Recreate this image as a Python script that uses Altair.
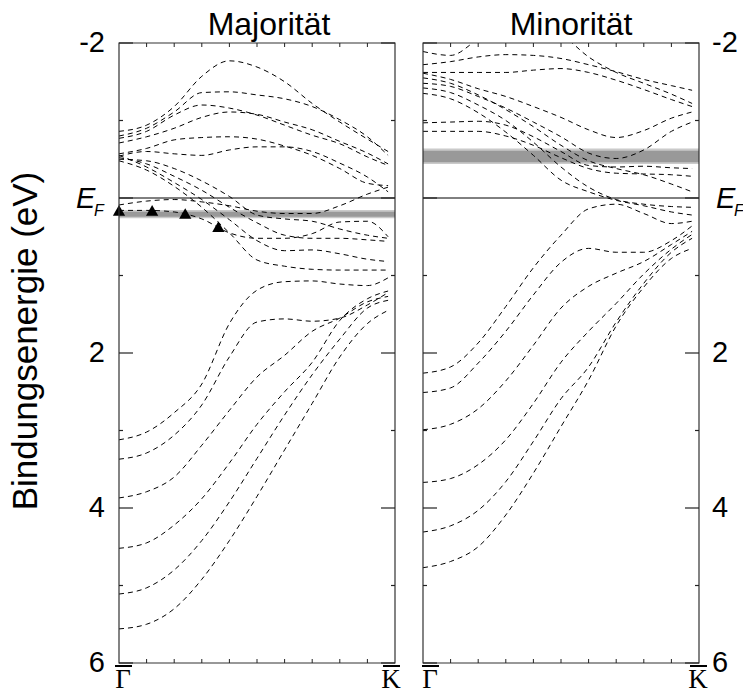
import altair as alt
import pandas as pd

# Sampling points along the Γ-K path (0 = Γ, 1 = K)
K_POINTS = [0.0, 0.1, 0.2, 0.3, 0.4, 0.5, 0.6, 0.7, 0.8, 0.9, 0.975]

# Majority-spin bands: binding energy (eV) at each K_POINTS entry
MAJ_U1 = [-0.86, -0.94, -1.18, -1.57, -1.77, -1.69, -1.50, -1.22, -0.98, -0.76, -0.60]
MAJ_U2 = [-0.80, -0.90, -1.11, -1.36, -1.37, -1.33, -1.28, -1.18, -1.01, -0.79, -0.55]
MAJ_U3 = [-0.77, -0.86, -1.07, -1.20, -1.16, -1.07, -0.94, -0.81, -0.70, -0.53, -0.42]
MAJ_U4 = [-0.71, -0.79, -0.90, -1.04, -1.11, -1.08, -0.98, -0.88, -0.73, -0.58, -0.44]
MAJ_U5 = [-0.57, -0.64, -0.75, -0.78, -0.79, -0.76, -0.67, -0.55, -0.38, -0.19, -0.16]
MAJ_U6 = [-0.54, -0.60, -0.57, -0.55, -0.62, -0.66, -0.66, -0.60, -0.45, -0.27, -0.08]
MAJ_C1 = [0.09, 0.04, 0.02, 0.05, 0.10, 0.17, 0.20, 0.20, 0.10, -0.05, -0.14]
MAJ_C2 = [0.16, 0.16, 0.18, 0.27, 0.45, 0.52, 0.52, 0.46, 0.31, 0.30, 0.50]
MAJ_V1 = [-0.50, -0.48, -0.38, -0.22, -0.02, 0.22, 0.27, 0.30, 0.40, 0.48, 0.52]
MAJ_V2 = [-0.52, -0.44, -0.28, -0.10, 0.12, 0.32, 0.48, 0.52, 0.52, 0.54, 0.56]
MAJ_V3 = [-0.55, -0.40, -0.20, 0.02, 0.28, 0.55, 0.68, 0.67, 0.72, 0.79, 0.82]
MAJ_V4 = [-0.48, -0.36, -0.15, 0.12, 0.45, 0.80, 0.88, 0.92, 0.93, 0.93, 0.93]
MAJ_D1 = [3.12, 3.02, 2.77, 2.40, 1.62, 1.19, 1.08, 1.07, 1.11, 1.13, 1.03]
MAJ_D2 = [3.37, 3.29, 3.06, 2.67, 2.05, 1.60, 1.56, 1.59, 1.55, 1.38, 1.22]
MAJ_D3 = [3.87, 3.79, 3.60, 3.19, 2.74, 2.31, 2.03, 1.72, 1.55, 1.34, 1.27]
MAJ_D4 = [4.52, 4.45, 4.22, 3.88, 3.42, 2.92, 2.50, 2.12, 1.58, 1.30, 1.20]
MAJ_D5 = [5.11, 5.03, 4.80, 4.42, 3.92, 3.36, 2.80, 2.28, 1.82, 1.42, 1.32]
MAJ_D6 = [5.56, 5.50, 5.30, 4.92, 4.42, 3.85, 3.25, 2.65, 2.05, 1.62, 1.45]

# Minority-spin bands
MIN_R1 = [-1.89, -1.84, -2.05, -2.25, -2.30, -2.12, -1.82, -1.62, -1.48, -1.34, -1.22]
MIN_R2 = [-1.72, -1.76, -1.82, -1.85, -1.84, -1.80, -1.72, -1.63, -1.53, -1.45, -1.39]
MIN_R3 = [-1.62, -1.62, -1.62, -1.62, -1.65, -1.67, -1.62, -1.52, -1.40, -1.27, -1.18]
MIN_R4 = [-1.61, -1.53, -1.41, -1.31, -1.18, -1.04, -0.88, -0.78, -0.87, -1.03, -1.11]
MIN_R5 = [-1.48, -1.44, -1.31, -1.16, -0.98, -0.79, -0.58, -0.51, -0.62, -0.86, -0.98]
MIN_R6 = [-0.97, -0.98, -0.99, -0.94, -0.79, -0.60, -0.42, -0.40, -0.41, -0.39, -0.38]
MIN_R7 = [-0.86, -0.86, -0.86, -0.80, -0.68, -0.52, -0.38, -0.32, -0.31, -0.30, -0.28]
MIN_R8 = [-1.55, -1.48, -1.33, -1.14, -0.92, -0.68, -0.48, -0.38, -0.30, -0.18, -0.08]
MIN_R9 = [-1.42, -1.36, -1.20, -1.00, -0.72, -0.40, -0.14, 0.02, 0.08, 0.11, 0.12]
MIN_R10 = [-1.35, -1.28, -1.10, -0.85, -0.55, -0.23, -0.08, 0.03, 0.10, 0.18, 0.22]
MIN_D1 = [2.26, 2.18, 1.87, 1.40, 0.90, 0.48, 0.14, 0.08, 0.20, 0.33, 0.30]
MIN_D2 = [2.51, 2.45, 2.13, 1.72, 1.25, 0.83, 0.65, 0.70, 0.70, 0.55, 0.36]
MIN_D3 = [2.99, 2.92, 2.72, 2.36, 1.90, 1.42, 1.14, 0.97, 0.82, 0.60, 0.43]
MIN_D4 = [3.67, 3.62, 3.44, 3.12, 2.65, 2.12, 1.72, 1.36, 0.98, 0.66, 0.47]
MIN_D5 = [4.31, 4.23, 4.03, 3.66, 3.14, 2.59, 2.18, 1.60, 1.10, 0.70, 0.52]
MIN_D6 = [4.77, 4.69, 4.50, 4.09, 3.55, 2.95, 2.35, 1.65, 1.15, 0.78, 0.65]

MAJ_BANDS = [MAJ_U1, MAJ_U2, MAJ_U3, MAJ_U4, MAJ_U5, MAJ_U6, MAJ_C1, MAJ_C2,
             MAJ_V1, MAJ_V2, MAJ_V3, MAJ_V4, MAJ_D1, MAJ_D2, MAJ_D3, MAJ_D4,
             MAJ_D5, MAJ_D6]
MIN_BANDS = [MIN_R1, MIN_R2, MIN_R3, MIN_R4, MIN_R5, MIN_R6, MIN_R7, MIN_R8,
             MIN_R9, MIN_R10, MIN_D1, MIN_D2, MIN_D3, MIN_D4, MIN_D5, MIN_D6]

# Measured states (photoemission peaks) in the majority panel
PEAK_K = [0.0, 0.12, 0.24, 0.36]
PEAK_E = [0.16, 0.16, 0.20, 0.37]

# Grey stripes: experimental surface-state energies (outer and core extent, eV)
MAJ_STRIPE_OUTER = [0.155, 0.26]
MAJ_STRIPE_CORE = [0.177, 0.241]
MIN_STRIPE_OUTER = [-0.64, -0.44]
MIN_STRIPE_CORE = [-0.61, -0.46]

PANEL_TITLES = ["Majorität", "Minorität"]
Y_TITLE = "Bindungsenergie (eV)"
TICK_VALUES = [-2, 2, 4, 6]
MAJOR_TICKS = [-2, 0, 2, 4, 6]
MINOR_TICKS = [-1, 1, 3, 5]
K_TICKS = [0.1, 0.2, 0.3, 0.4, 0.5, 0.6, 0.7, 0.8, 0.9]

# Both panels share one horizontal scale; the second panel is shifted by 1 + gap
GAP = 28 / 276
OFFSETS = [0.0, 1.0 + GAP]
W, H = 580, 620

rows = []
for p, bands in enumerate([MAJ_BANDS, MIN_BANDS]):
    for b, energies in enumerate(bands):
        for k, e in zip(K_POINTS, energies):
            rows.append({"band": f"{p}-{b}", "x": k + OFFSETS[p], "E": e})
band_df = pd.DataFrame(rows)

x_scale = alt.Scale(domain=[0, 2 + GAP], nice=False, zero=False)
y_scale = alt.Scale(domain=[-2, 6], reverse=True, nice=False, zero=False)


def X(f):
    return alt.X(f, type="quantitative", scale=x_scale, axis=None)


def Y(f):
    return alt.Y(f, type="quantitative", scale=y_scale, axis=None)


panels = pd.DataFrame({"x0": OFFSETS, "x1": [o + 1 for o in OFFSETS], "ef": [0, 0]})

stripes = pd.DataFrame({
    "x0": [OFFSETS[0], OFFSETS[0], OFFSETS[1], OFFSETS[1]],
    "x1": [OFFSETS[0] + 1, OFFSETS[0] + 1, OFFSETS[1] + 1, OFFSETS[1] + 1],
    "e0": [MAJ_STRIPE_OUTER[0], MAJ_STRIPE_CORE[0], MIN_STRIPE_OUTER[0], MIN_STRIPE_CORE[0]],
    "e1": [MAJ_STRIPE_OUTER[1], MAJ_STRIPE_CORE[1], MIN_STRIPE_OUTER[1], MIN_STRIPE_CORE[1]],
    "part": ["outer", "core", "outer", "core"],
})

stripe_layer = alt.Chart(stripes).mark_rect().encode(
    x=X("x0"), x2="x1", y=Y("e0"), y2="e1",
    color=alt.Color("part:N", scale=alt.Scale(domain=["outer", "core"],
                                              range=["#cacaca", "#999999"]),
                    legend=None),
)

band_layer = alt.Chart(band_df).mark_line(
    color="black", strokeWidth=1, strokeDash=[5, 4], interpolate="monotone", clip=True
).encode(x=X("x"), y=Y("E"), detail="band:N")

ef_layer = alt.Chart(panels).mark_rule(color="black", strokeWidth=1).encode(
    x=X("x0"), x2="x1", y=Y("ef")
)

peaks = pd.DataFrame({"x": PEAK_K, "E": PEAK_E})
peak_layer = alt.Chart(peaks).mark_point(
    shape="triangle-up", filled=True, color="black", size=150, opacity=1
).encode(x=X("x"), y=Y("E"))

frame_layer = alt.Chart(panels.assign(top=-2, bottom=6)).mark_rect(
    fillOpacity=0, stroke="#333333", strokeWidth=1.2
).encode(x=X("x0"), x2="x1", y=Y("top"), y2="bottom")


# inward ticks on the energy axes
def edge_ticks(edges, values, length):
    df = pd.DataFrame([{"x": e, "E": v} for e in edges for v in values])
    return alt.Chart(df).mark_rule(color="#222222", strokeWidth=1.2, x2Offset=length).encode(
        x=X("x"), x2="x", y=Y("E")
    )


left_edges = list(OFFSETS)
right_edges = [o + 1 for o in OFFSETS]
tick_layers = [
    edge_ticks(left_edges, MAJOR_TICKS, 14),
    edge_ticks(right_edges, MAJOR_TICKS, -14),
    edge_ticks(left_edges, MINOR_TICKS, 4),
    edge_ticks(right_edges, MINOR_TICKS, -4),
]

kt = pd.DataFrame([{"x": o + k} for o in OFFSETS for k in K_TICKS])
tick_layers.append(alt.Chart(kt.assign(E=-2)).mark_rule(
    color="#222222", strokeWidth=1, y2Offset=4).encode(x=X("x"), y=Y("E"), y2="E"))
tick_layers.append(alt.Chart(kt.assign(E=6)).mark_rule(
    color="#222222", strokeWidth=1, y2Offset=-4).encode(x=X("x"), y=Y("E"), y2="E"))

FONT = "Liberation Sans"
labels = pd.DataFrame({"E": TICK_VALUES, "t": [str(v) for v in TICK_VALUES]})
left_labels = alt.Chart(labels).mark_text(
    font=FONT, fontSize=29, align="right", baseline="middle", color="black"
).encode(x=alt.value(-14), y=Y("E"), text="t:N")
right_labels = alt.Chart(labels).mark_text(
    font=FONT, fontSize=29, align="left", baseline="middle", color="black"
).encode(x=alt.value(W + 13), y=Y("E"), text="t:N")


def text_at(t, px, py, size, **kw):
    return alt.Chart(pd.DataFrame({"t": [t]})).mark_text(
        fontSize=size, color="black", **kw
    ).encode(x=alt.value(px), y=alt.value(py), text="t:N")


def ef_label(xe, xf):
    ef = pd.DataFrame({"E": [0]})
    e = alt.Chart(ef).mark_text(
        font=FONT, fontSize=29, fontStyle="italic", align="left", baseline="alphabetic",
        dy=10, color="black", text="E"
    ).encode(x=alt.value(xe), y=Y("E"))
    f = alt.Chart(ef).mark_text(
        font=FONT, fontSize=16, fontStyle="italic", align="left", baseline="alphabetic",
        dy=18, color="black", text="F"
    ).encode(x=alt.value(xf), y=Y("E"))
    return [e, f]


title_layers = [
    text_at(PANEL_TITLES[0], 150, -8, 32, font=FONT, align="center", baseline="alphabetic"),
    text_at(PANEL_TITLES[1], 452, -8, 32, font=FONT, align="center", baseline="alphabetic"),
    text_at(Y_TITLE, -93, 298, 35, font=FONT, angle=270, align="center", baseline="middle"),
]

# Γ and K symmetry-point labels with overbars
sym_layers = []
for t, px in zip(["Γ", "K", "Γ", "K"], [4, 272, 311, 579]):
    sym_layers.append(text_at(t, px, 645, 27, font="Liberation Serif",
                              align="center", baseline="alphabetic"))
for a, b in zip([-4, 264, 303, 571], [13, 281, 320, 588]):
    sym_layers.append(alt.Chart(pd.DataFrame({"v": [0]})).mark_rule(
        color="black", strokeWidth=2).encode(
        x=alt.value(a), x2=alt.value(b), y=alt.value(623)))

chart = alt.layer(
    stripe_layer, band_layer, ef_layer, peak_layer, frame_layer, *tick_layers,
    left_labels, right_labels, *ef_label(-43, -25), *ef_label(W + 17, W + 35),
    *title_layers, *sym_layers,
).properties(
    width=W, height=H,
    autosize=alt.AutoSizeParams(type="none"),
    padding={"left": 119, "top": 43, "right": 44, "bottom": 29},
).configure_view(stroke=None)

chart.save("out.html", embed_options={"renderer": "svg", "actions": False})
